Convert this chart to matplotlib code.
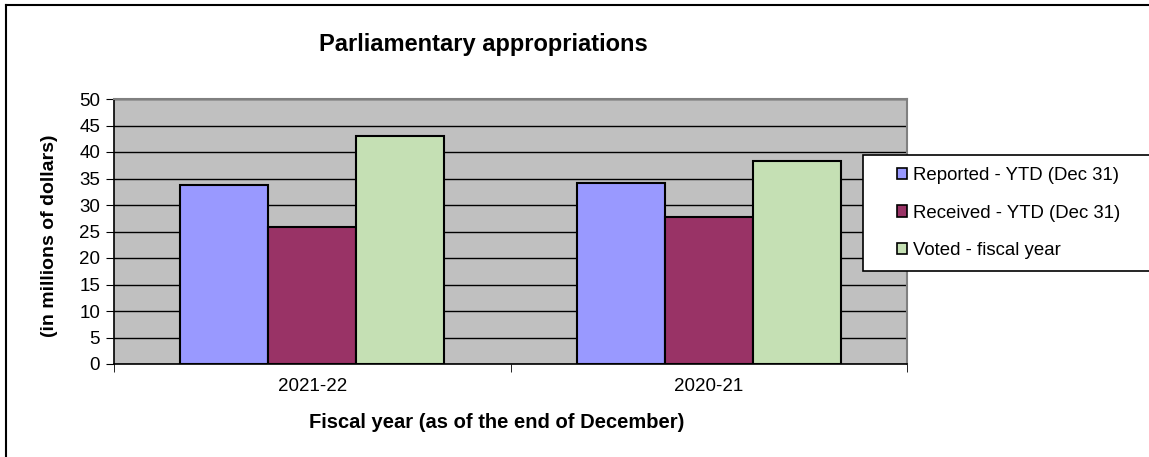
import matplotlib as mpl
mpl.use('Agg')
import matplotlib.pyplot as plt
from matplotlib.patches import Rectangle, Patch
from matplotlib.lines import Line2D
import numpy as np

# data
years = ['2021-22', '2020-21']
reported = [33.7, 34.2]
received = [25.9, 27.7]
voted = [43.1, 38.3]
series_names = ['Reported - YTD (Dec 31)', 'Received - YTD (Dec 31)', 'Voted - fiscal year']
series_cols = ['#9999FF', '#993366', '#C5E0B4']
yticks = list(range(0, 55, 5))

W, H = 1149, 457
plt.rcParams['font.family'] = ['Liberation Sans', 'DejaVu Sans']

fig = plt.figure(figsize=(W/100.0, H/100.0), dpi=100)
fig.patch.set_facecolor('white')

# plot area in pixels: x 114-907, y 99-364
ax = fig.add_axes([114.0/W, 1-364.0/H, 793.0/W, 265.0/H], facecolor='#C0C0C0')

x = np.arange(len(years))
bw = 0.222
for i, vals in enumerate([reported, received, voted]):
	ax.bar(x + (i-1)*bw, vals, width=bw, color=series_cols[i], edgecolor='black',
		linewidth=1.5, zorder=3)

ax.set_xlim(-0.5, 1.5)
ax.set_ylim(0, 50)
ax.set_yticks(yticks)
ax.set_yticklabels([str(t) for t in yticks], fontsize=13.5)
ax.yaxis.grid(True, color='black', linewidth=1.0, zorder=1)
ax.set_axisbelow(True)

ax.set_xticks(x)
ax.set_xticklabels(years, fontsize=13.5)
ax.tick_params(axis='x', which='major', length=0, pad=10)
ax.set_xticks([-0.5, 0.5, 1.5], minor=True)
ax.tick_params(axis='x', which='minor', length=6, color='black', direction='out')
ax.tick_params(axis='y', length=6, color='black', direction='out', pad=4)

for s in ['left', 'bottom']:
	ax.spines[s].set_color('black')
	ax.spines[s].set_linewidth(1.2)
for s in ['top', 'right']:
	ax.spines[s].set_color('#808080')
	ax.spines[s].set_linewidth(1.5)

ax.set_ylabel('(in millions of dollars)', fontsize=14, fontweight='bold')
ax.yaxis.set_label_coords(-0.070, 0.483)
ax.set_xlabel('Fiscal year (as of the end of December)', fontsize=14.5, fontweight='bold')
ax.xaxis.set_label_coords(0.483, -0.186)

fig.text(483.0/W, 1-44.0/H, 'Parliamentary appropriations', fontsize=17,
	fontweight='bold', ha='center', va='center')

# legend box
fig.patches.append(Rectangle((863.0/W, 1-271.0/H), 290.0/W, 116.0/H,
	transform=fig.transFigure, facecolor='white', edgecolor='black', linewidth=1.2, zorder=5))
handles = [Patch(facecolor=c, edgecolor='black', linewidth=1.2) for c in series_cols]
leg = fig.legend(handles, series_names, loc='center left', bbox_to_anchor=(897.0/W, 1-213.0/H),
	frameon=False, fontsize=13.4, handlelength=0.55, handleheight=0.55, handletextpad=0.3,
	labelspacing=1.1, borderpad=0, borderaxespad=0)
leg.set_zorder(6)

# outer chart border (top and left visible)
fig.add_artist(Line2D([6.0/W, 6.0/W], [0, 1-5.0/H], color='black', linewidth=1.5, transform=fig.transFigure))
fig.add_artist(Line2D([6.0/W, 1], [1-5.0/H, 1-5.0/H], color='black', linewidth=1.5, transform=fig.transFigure))

plt.savefig('out.png', dpi=100)
